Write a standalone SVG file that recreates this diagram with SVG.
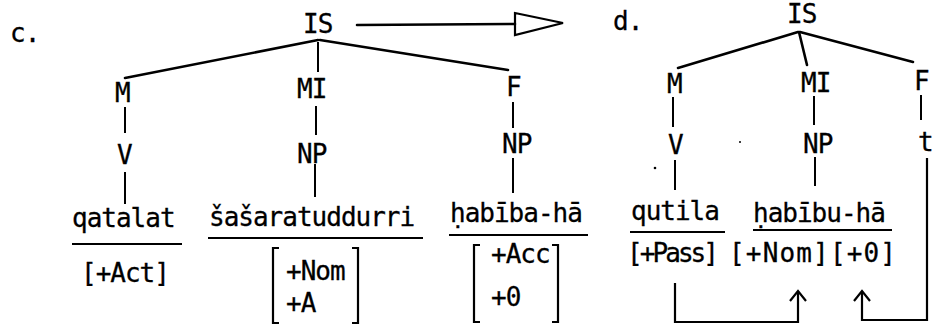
<svg xmlns="http://www.w3.org/2000/svg" width="935" height="324" viewBox="0 0 935 324">
<style>
text{font-family:"DejaVu Sans Mono","Liberation Mono",monospace;font-size:26px;letter-spacing:-1px;fill:#000;stroke:#000;stroke-width:0.3}
.e{stroke:#000;stroke-width:2.6;fill:none;stroke-linecap:round}
.v{stroke:#000;stroke-width:2;fill:none}
.u{stroke:#000;stroke-width:2;fill:none}
.b{stroke:#000;stroke-width:2.2;fill:none}
</style>
<rect width="935" height="324" fill="#fff"/>
<g id="label-c"><text x="10" y="42">c.</text></g>
<g id="label-d"><text x="613" y="30">d.</text></g>

<g id="connectors">
<path class="e" d="M318 40 L125 78"/>
<path class="e" d="M320 40 L508 70"/>
<path class="v" d="M318 42 V72"/>
<path class="v" d="M125 107 V133"/>
<path class="v" d="M125 172 V204"/>
<path class="v" d="M316 106 V135"/>
<path class="v" d="M315 164 V197"/>
<path class="v" d="M513 102 V128"/>
<path class="v" d="M513 158 V193"/>
<path class="e" d="M357 25 L515 24"/>
<path class="b" d="M515 13 L563 23 L515 35 Z"/>
<path class="e" d="M798 32 L678 68"/>
<path class="e" d="M799 32 L807 65"/>
<path class="e" d="M800 32 L913 62"/>
<path class="v" d="M673 97 V127"/>
<path class="v" d="M675 160 V190"/>
<path class="v" d="M814 96 V125"/>
<path class="v" d="M815 157 V186"/>
<path class="v" d="M921 95 V120"/>
<path class="b" d="M675 283 V322 H798 V292"/>
<path class="b" d="M790 301 L798 291 L806 301"/>
<path class="b" d="M927 158 V320 H862 V292"/>
<path class="b" d="M854 301 L862 291 L870 301"/>
</g>

<g id="c-IS"><text x="303" y="33">IS</text></g>
<g id="c-M"><text x="115" y="102">M</text></g>
<g id="c-MI"><text x="297" y="98">MI</text></g>
<g id="c-F"><text x="506" y="96">F</text></g>
<g id="c-V"><text x="117" y="164">V</text></g>
<g id="c-NP1"><text x="297" y="163">NP</text></g>
<g id="c-NP2"><text x="502" y="153">NP</text></g>
<g id="c-qatalat"><text x="72" y="227">qatalat</text><path class="u" d="M72 244 H182"/></g>
<g id="c-sasaratuddurri"><text x="209" y="226">šašaratuddurri</text><path class="u" d="M208 238 H423"/></g>
<g id="c-habiba"><text x="450" y="222">ḥabība-hā</text><path class="u" d="M449 235 H588"/></g>
<g id="c-act"><text x="81" y="282">[+Act]</text></g>
<g id="c-nom">
<path class="b" d="M279 248 H273 V323 H279"/>
<path class="b" d="M352 248 H358 V323 H352"/>
<text x="286" y="280">+Nom</text>
<text x="286" y="312">+A</text>
</g>
<g id="c-acc">
<path class="b" d="M480 245 H474 V322 H480"/>
<path class="b" d="M552 245 H558 V322 H552"/>
<text x="491" y="263">+Acc</text>
<text x="491" y="306">+0</text>
</g>

<g id="d-IS"><text x="787" y="23">IS</text></g>
<g id="d-M"><text x="667" y="93">M</text></g>
<g id="d-MI"><text x="801" y="92">MI</text></g>
<g id="d-F"><text x="914" y="90">F</text></g>
<g id="d-V"><text x="668" y="154">V</text></g>
<g id="d-NP"><text x="803" y="153">NP</text></g>
<g id="d-t"><text x="918" y="151">t</text></g>
<g id="d-qutila"><text x="631" y="220">qutila</text><path class="u" d="M630 232 H725"/></g>
<g id="d-habibu"><text x="753" y="222">ḥabību-hā</text><path class="u" d="M753 230 H892"/></g>
<g id="d-pass"><text x="627" y="262" textLength="91" lengthAdjust="spacing">[+Pass]</text></g>
<g id="d-nom-o"><text x="729" y="262" textLength="166" lengthAdjust="spacing">[+Nom][+0]</text></g>
<g id="specks"><circle cx="655" cy="168" r="1.3"/><circle cx="740" cy="142" r="1"/></g>
</svg>
